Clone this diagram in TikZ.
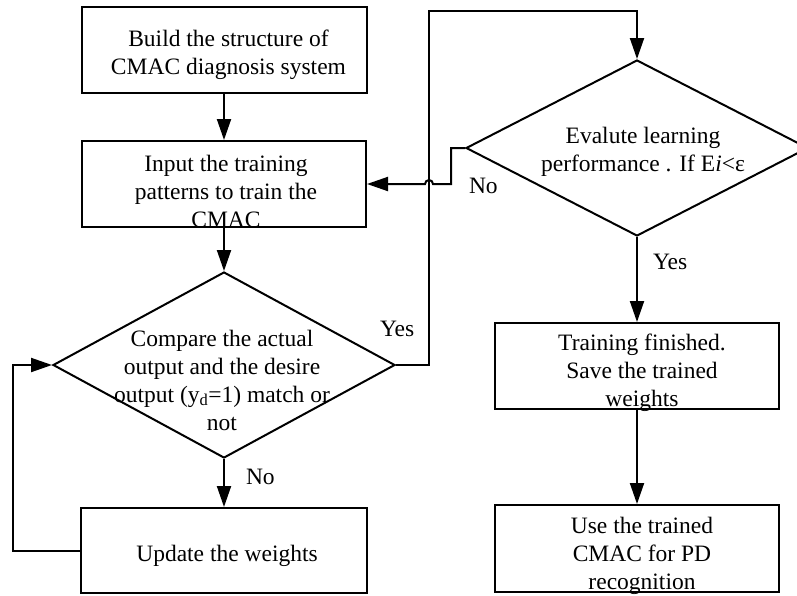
\documentclass[tikz,border=0pt]{standalone}
\usepackage{fontspec}
\setmainfont{Liberation Serif}
\usetikzlibrary{shapes.geometric,arrows.meta}

\begin{document}
\begin{tikzpicture}[
    x=1pt,
    y=-1pt,
    line width=2pt,
    font=\fontsize{23.5}{28}\selectfont,
    block/.style={%
      draw,
      rectangle,
      inner sep=0pt,
    },
    decision/.style={%
      draw,
      diamond,
      inner sep=0pt,
    },
    txt/.style={%
      anchor=north,
      align=center,
      inner sep=0pt,
    },
    lbl/.style={%
      anchor=base west,
      inner sep=0pt,
    },
    arr/.style={%
      -{Triangle[length=21pt,width=14pt]},
    },
  ]

    \clip (0,0) rectangle (797,595);

    \node [block, minimum width=285pt, minimum height=86pt] (build) at (224,50) {};
    \node [block, minimum width=284pt, minimum height=86pt] (input) at (224,184) {};
    \node [decision, minimum width=342pt, minimum height=186pt] (compare) at (224,365) {};
    \node [block, minimum width=286pt, minimum height=85pt] (update) at (224,550.5) {};
    \node [decision, minimum width=342pt, minimum height=176pt] (evaluate) at (637,148) {};
    \node [block, minimum width=284pt, minimum height=86pt] (finished) at (637,366) {};
    \node [block, minimum width=284pt, minimum height=87pt] (use) at (637,548.5) {};

    \path (build) ++(4.5,-24.6) node [txt] (buildText) {\strut Build the structure of\\CMAC diagnosis system};
    \path (input) ++(2,-33.6) node [txt] (inputText) {\strut Input the training\\patterns to train the\\CMAC};
    \path (compare) ++(-2,-39.6) node [txt] (compareText) {\strut Compare the actual\\output and the desire\\output (y\textsubscript{d}=1) match or\\not};
    \path (update) ++(3,-10.1) node [txt] (updateText) {\strut Update the weights};
    \path (evaluate) ++(6,-25.6) node [txt] (evaluateText) {\strut Evalute learning\\performance . If E\textit{i}<ε};
    \path (finished) ++(5,-36.6) node [txt] (finishedText) {\strut Training finished.\\Save the trained\\weights};
    \path (use) ++(5,-36.1) node [txt] (useText) {\strut Use the trained\\CMAC for PD\\recognition};

    \path (compare.east) ++(-17,-29) node [lbl] (yesA) {Yes};
    \path (compare.south) ++(21,25) node [lbl] (noA) {No};
    \path (evaluate.west) ++(3,45) node [lbl] (noB) {No};
    \path (evaluate.south) ++(15,32) node [lbl] (yesB) {Yes};

    \coordinate (corner) at (429,11);
    \coordinate (hop) at (429,184);

    \draw [arr] (build) -- (input);
    \draw [arr] (input) -- (compare);
    \draw [arr] (compare) -- (update);
    \draw [arr] (update.west) -- ++(-67,0) |- (compare.west);
    \draw [arr] (compare.east) -| (corner) -| (evaluate.north);
    \draw [arr] (evaluate.west) -- ++(-14,0) |- ([xshift=4pt]hop)
      arc [start angle=0, end angle=180, radius=4pt] -- (input.east);
    \draw [arr] (evaluate) -- (finished);
    \draw [arr] (finished) -- (use);
\end{tikzpicture}
\end{document}
